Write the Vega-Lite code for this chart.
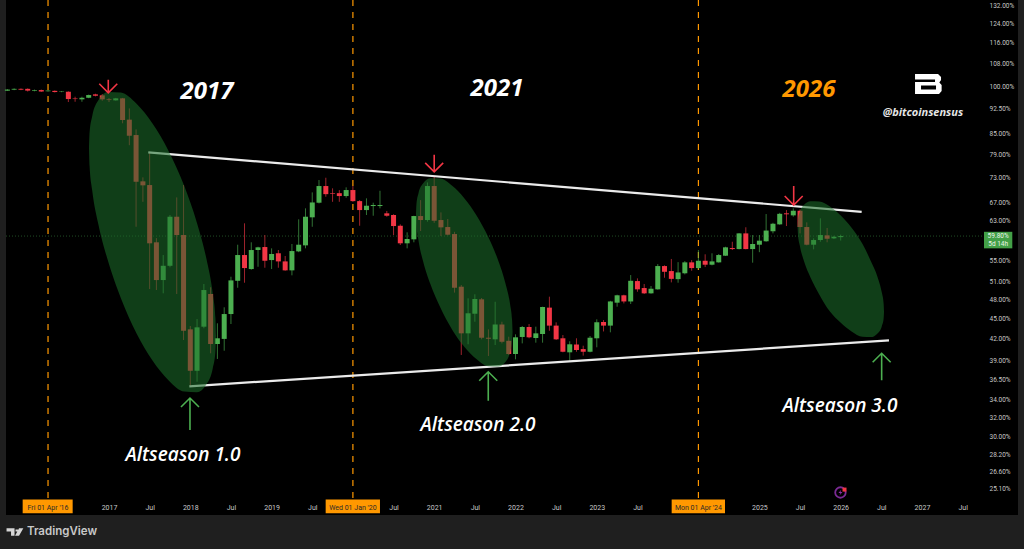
{
  "$schema": "https://vega.github.io/schema/vega-lite/v6.json",
  "description": "Altseason cycles on a monthly log chart of bitcoin dominance",
  "autosize": "none",
  "width": 1012,
  "height": 515,
  "padding": {"left": 6, "top": 0, "right": 6, "bottom": 34},
  "background": "#1f1f1f",
  "view": {"fill": "#000000", "stroke": null},
  "datasets": {
    "candles": [
      {"t":2015.75,"o":98.40,"c":98.80,"h":98.97,"l":98.30},
      {"t":2015.833,"o":98.76,"c":99.04,"h":99.2,"l":98.6},
      {"t":2015.917,"o":99.04,"c":98.76,"h":99.2,"l":98.6},
      {"t":2016,"o":99.04,"c":98.43,"h":99.2,"l":98.13},
      {"t":2016.083,"o":98.40,"c":98.63,"h":98.8,"l":98.2},
      {"t":2016.167,"o":98.63,"c":98.13,"h":98.8,"l":98.0},
      {"t":2016.25,"o":98.23,"c":98.46,"h":98.6,"l":98.1},
      {"t":2016.333,"o":98.36,"c":97.96,"h":98.5,"l":97.8},
      {"t":2016.417,"o":98.06,"c":98.20,"h":98.3,"l":97.9},
      {"t":2016.5,"o":98.06,"c":95.63,"h":98.2,"l":94.65},
      {"t":2016.583,"o":95.8,"c":95.63,"h":96.4,"l":94.74},
      {"t":2016.667,"o":95.53,"c":96.05,"h":96.4,"l":94.74},
      {"t":2016.75,"o":96.05,"c":96.95,"h":97.1,"l":95.9},
      {"t":2016.833,"o":97.18,"c":96.72,"h":97.4,"l":96.5},
      {"t":2016.917,"o":96.85,"c":95.53,"h":97.29,"l":95.07},
      {"t":2017,"o":95.53,"c":95.30,"h":95.96,"l":94.65},
      {"t":2017.083,"o":95.2,"c":95.86,"h":96.0,"l":95.1},
      {"t":2017.167,"o":95.86,"c":88.99,"h":96.0,"l":87.98},
      {"t":2017.25,"o":89.09,"c":84.3,"h":92.6,"l":81.6},
      {"t":2017.333,"o":84.5,"c":71.97,"h":86.17,"l":61.66},
      {"t":2017.417,"o":72.07,"c":71.09,"h":73.07,"l":67.18},
      {"t":2017.5,"o":71.16,"c":58.25,"h":79.62,"l":49.78},
      {"t":2017.583,"o":58.45,"c":51.34,"h":59.3,"l":49.61},
      {"t":2017.667,"o":51.34,"c":53.92,"h":55.95,"l":49.05},
      {"t":2017.75,"o":53.92,"c":63.82,"h":64.2,"l":53.63},
      {"t":2017.833,"o":63.82,"c":59.93,"h":68.2,"l":48.94},
      {"t":2017.917,"o":59.93,"c":43.13,"h":71.16,"l":41.78},
      {"t":2018,"o":43.34,"c":37.59,"h":43.84,"l":35.67},
      {"t":2018.083,"o":37.59,"c":43.64,"h":44.9,"l":36.2},
      {"t":2018.167,"o":43.74,"c":49.61,"h":50.65,"l":43.5},
      {"t":2018.25,"o":48.94,"c":41.21,"h":50.08,"l":39.92},
      {"t":2018.333,"o":41.21,"c":42.03,"h":44.25,"l":39.15},
      {"t":2018.417,"o":41.94,"c":45.68,"h":46.75,"l":40.27},
      {"t":2018.5,"o":45.68,"c":51.28,"h":51.93,"l":44.14},
      {"t":2018.583,"o":51.21,"c":55.95,"h":57.97,"l":50.0},
      {"t":2018.667,"o":55.95,"c":53.5,"h":62.39,"l":50.87},
      {"t":2018.75,"o":53.32,"c":56.92,"h":58.45,"l":53.19},
      {"t":2018.833,"o":56.92,"c":57.45,"h":57.57,"l":53.74},
      {"t":2018.917,"o":57.51,"c":54.86,"h":59.93,"l":53.56},
      {"t":2019,"o":54.99,"c":56.15,"h":57.25,"l":53.32},
      {"t":2019.083,"o":56.29,"c":54.74,"h":56.92,"l":53.56},
      {"t":2019.167,"o":54.74,"c":53.08,"h":55.76,"l":53.01},
      {"t":2019.25,"o":53.08,"c":56.72,"h":58.11,"l":52.18},
      {"t":2019.333,"o":56.66,"c":57.97,"h":63.25,"l":56.5},
      {"t":2019.417,"o":57.84,"c":63.82,"h":65.69,"l":57.25},
      {"t":2019.5,"o":63.69,"c":67.03,"h":69.39,"l":61.66},
      {"t":2019.583,"o":66.97,"c":70.92,"h":72.4,"l":66.8},
      {"t":2019.667,"o":70.92,"c":68.97,"h":72.97,"l":68.36},
      {"t":2019.75,"o":69.2,"c":69.05,"h":70.36,"l":67.18},
      {"t":2019.833,"o":69.2,"c":68.52,"h":69.93,"l":67.18},
      {"t":2019.917,"o":68.52,"c":69.95,"h":70.6,"l":68.12},
      {"t":2020,"o":69.95,"c":67.34,"h":70.92,"l":67.18},
      {"t":2020.083,"o":67.34,"c":65.3,"h":67.57,"l":61.87},
      {"t":2020.167,"o":65.3,"c":66.28,"h":67.98,"l":64.2},
      {"t":2020.25,"o":66.21,"c":66.44,"h":66.97,"l":64.04},
      {"t":2020.333,"o":66.21,"c":66.44,"h":69.78,"l":65.69},
      {"t":2020.417,"o":64.57,"c":64.04,"h":65.1,"l":63.82},
      {"t":2020.5,"o":64.2,"c":61.81,"h":64.36,"l":59.93},
      {"t":2020.583,"o":61.87,"c":58.25,"h":62.17,"l":57.91},
      {"t":2020.667,"o":58.25,"c":59.12,"h":60.49,"l":57.25},
      {"t":2020.75,"o":59.05,"c":63.97,"h":64.04,"l":58.45},
      {"t":2020.833,"o":63.97,"c":63.1,"h":67.57,"l":60.76},
      {"t":2020.917,"o":63.1,"c":70.92,"h":71.8,"l":62.74},
      {"t":2021,"o":70.92,"c":62.95,"h":73.23,"l":62.5},
      {"t":2021.083,"o":63.1,"c":61.53,"h":64.78,"l":59.72},
      {"t":2021.167,"o":61.6,"c":60.0,"h":63.32,"l":59.86},
      {"t":2021.25,"o":60.13,"c":50.0,"h":60.6,"l":49.17},
      {"t":2021.333,"o":50.18,"c":42.75,"h":50.47,"l":39.69},
      {"t":2021.417,"o":42.75,"c":45.8,"h":48.22,"l":41.17},
      {"t":2021.5,"o":45.73,"c":48.1,"h":48.89,"l":44.49},
      {"t":2021.583,"o":48.05,"c":42.11,"h":48.27,"l":41.88},
      {"t":2021.667,"o":42.11,"c":41.97,"h":43.34,"l":39.55},
      {"t":2021.75,"o":41.88,"c":44.07,"h":47.65,"l":41.07},
      {"t":2021.833,"o":44.07,"c":41.53,"h":44.49,"l":41.3},
      {"t":2021.917,"o":41.67,"c":39.82,"h":42.26,"l":39.69},
      {"t":2022,"o":39.82,"c":42.17,"h":42.6,"l":39.1},
      {"t":2022.083,"o":42.22,"c":43.69,"h":43.84,"l":41.3},
      {"t":2022.167,"o":43.69,"c":42.17,"h":44.14,"l":42.03},
      {"t":2022.25,"o":42.07,"c":42.75,"h":43.74,"l":41.4},
      {"t":2022.333,"o":42.65,"c":46.8,"h":46.85,"l":41.4},
      {"t":2022.417,"o":46.7,"c":43.9,"h":48.49,"l":43.13},
      {"t":2022.5,"o":43.9,"c":41.88,"h":44.4,"l":41.78},
      {"t":2022.583,"o":42.03,"c":40.13,"h":42.5,"l":40.05},
      {"t":2022.667,"o":40.05,"c":41.17,"h":41.6,"l":38.9},
      {"t":2022.75,"o":41.14,"c":40.37,"h":42.03,"l":40.13},
      {"t":2022.833,"o":40.5,"c":40.13,"h":40.97,"l":39.6},
      {"t":2022.917,"o":40.13,"c":42.11,"h":42.36,"l":40.05},
      {"t":2023,"o":42.03,"c":44.41,"h":44.86,"l":40.75},
      {"t":2023.083,"o":44.45,"c":43.9,"h":44.75,"l":43.03},
      {"t":2023.167,"o":43.9,"c":47.7,"h":47.8,"l":42.9},
      {"t":2023.25,"o":47.5,"c":48.72,"h":48.82,"l":46.85},
      {"t":2023.333,"o":48.72,"c":47.7,"h":48.82,"l":47.38},
      {"t":2023.417,"o":47.7,"c":51.21,"h":52.23,"l":47.28},
      {"t":2023.5,"o":51.16,"c":49.73,"h":51.64,"l":49.32},
      {"t":2023.583,"o":49.95,"c":49.05,"h":50.65,"l":48.94},
      {"t":2023.667,"o":49.05,"c":49.83,"h":50.3,"l":48.99},
      {"t":2023.75,"o":49.73,"c":53.87,"h":54.24,"l":49.67},
      {"t":2023.833,"o":53.87,"c":52.82,"h":54.0,"l":51.75},
      {"t":2023.917,"o":52.95,"c":51.55,"h":55.2,"l":50.93},
      {"t":2024,"o":51.5,"c":52.7,"h":54.6,"l":50.87},
      {"t":2024.083,"o":52.55,"c":54.56,"h":54.8,"l":52.35},
      {"t":2024.167,"o":54.56,"c":53.5,"h":54.99,"l":53.01},
      {"t":2024.25,"o":53.5,"c":54.86,"h":56.92,"l":53.26},
      {"t":2024.333,"o":54.86,"c":54.12,"h":56.09,"l":53.68},
      {"t":2024.417,"o":54.12,"c":54.74,"h":56.28,"l":54.0},
      {"t":2024.5,"o":54.56,"c":55.95,"h":56.15,"l":54.5},
      {"t":2024.583,"o":55.82,"c":57.45,"h":57.57,"l":55.76},
      {"t":2024.667,"o":57.31,"c":57.11,"h":58.56,"l":56.92},
      {"t":2024.75,"o":57.11,"c":60.27,"h":60.33,"l":57.05},
      {"t":2024.833,"o":60.27,"c":57.11,"h":61.55,"l":57.05},
      {"t":2024.917,"o":57.11,"c":58.11,"h":59.93,"l":54.5},
      {"t":2025,"o":57.97,"c":58.78,"h":59.93,"l":56.5},
      {"t":2025.083,"o":58.66,"c":60.86,"h":64.41,"l":58.56},
      {"t":2025.167,"o":60.71,"c":62.3,"h":62.5,"l":60.27},
      {"t":2025.25,"o":62.17,"c":64.46,"h":64.68,"l":62.08},
      {"t":2025.333,"o":64.57,"c":64.36,"h":65.3,"l":61.81},
      {"t":2025.417,"o":64.12,"c":65.15,"h":65.69,"l":63.82},
      {"t":2025.5,"o":65.15,"c":61.6,"h":65.45,"l":60.27},
      {"t":2025.583,"o":61.6,"c":57.97,"h":62.6,"l":57.84},
      {"t":2025.667,"o":57.97,"c":58.91,"h":59.25,"l":57.05},
      {"t":2025.75,"o":58.91,"c":59.93,"h":63.47,"l":58.56},
      {"t":2025.833,"o":59.86,"c":59.17,"h":61.4,"l":58.45},
      {"t":2025.917,"o":59.25,"c":59.58,"h":59.78,"l":59.1},
      {"t":2026,"o":59.5,"c":59.72,"h":60.0,"l":58.8}
    ],
    "ellipses": [
      {"id":"2017","t":2016.754,"p":80.7,"p2":80.7},
      {"id":"2017","t":2016.761,"p":85.23,"p2":75.96},
      {"id":"2017","t":2016.793,"p":90.17,"p2":69.92},
      {"id":"2017","t":2016.871,"p":95.33,"p2":62.05},
      {"id":"2017","t":2016.988,"p":97.99,"p2":54.8},
      {"id":"2017","t":2017.145,"p":97.79,"p2":48.28},
      {"id":"2017","t":2017.339,"p":94.07,"p2":42.74},
      {"id":"2017","t":2017.535,"p":87.91,"p2":38.94},
      {"id":"2017","t":2017.731,"p":80.08,"p2":36.39},
      {"id":"2017","t":2017.926,"p":70.9,"p2":35.0},
      {"id":"2017","t":2018.082,"p":62.45,"p2":34.93},
      {"id":"2017","t":2018.199,"p":55.17,"p2":35.9},
      {"id":"2017","t":2018.277,"p":48.95,"p2":37.96},
      {"id":"2017","t":2018.309,"p":45.06,"p2":40.16},
      {"id":"2017","t":2018.316,"p":42.42,"p2":42.42},
      {"id":"2021","t":2020.776,"p":64.48,"p2":64.48},
      {"id":"2021","t":2020.782,"p":66.73,"p2":62.06},
      {"id":"2021","t":2020.806,"p":69.13,"p2":58.94},
      {"id":"2021","t":2020.865,"p":71.58,"p2":54.67},
      {"id":"2021","t":2020.954,"p":72.82,"p2":50.6},
      {"id":"2021","t":2021.074,"p":72.75,"p2":46.74},
      {"id":"2021","t":2021.221,"p":70.97,"p2":43.28},
      {"id":"2021","t":2021.37,"p":68.03,"p2":40.83},
      {"id":"2021","t":2021.519,"p":64.17,"p2":39.15},
      {"id":"2021","t":2021.668,"p":59.43,"p2":38.18},
      {"id":"2021","t":2021.786,"p":54.96,"p2":38.14},
      {"id":"2021","t":2021.876,"p":50.8,"p2":38.74},
      {"id":"2021","t":2021.935,"p":47.12,"p2":40.17},
      {"id":"2021","t":2021.958,"p":44.76,"p2":41.63},
      {"id":"2021","t":2021.964,"p":43.0,"p2":43.0},
      {"id":"2026","t":2025.47,"p":61.66,"p2":61.66},
      {"id":"2026","t":2025.475,"p":63.2,"p2":59.99},
      {"id":"2026","t":2025.497,"p":64.87,"p2":57.79},
      {"id":"2026","t":2025.55,"p":66.49,"p2":54.72},
      {"id":"2026","t":2025.63,"p":67.3,"p2":51.75},
      {"id":"2026","t":2025.736,"p":67.23,"p2":48.87},
      {"id":"2026","t":2025.868,"p":66.1,"p2":46.07},
      {"id":"2026","t":2026.001,"p":64.1,"p2":44.32},
      {"id":"2026","t":2026.134,"p":61.45,"p2":43.03},
      {"id":"2026","t":2026.267,"p":58.15,"p2":42.24},
      {"id":"2026","t":2026.373,"p":54.72,"p2":42.2},
      {"id":"2026","t":2026.453,"p":51.9,"p2":42.73},
      {"id":"2026","t":2026.506,"p":49.17,"p2":43.82},
      {"id":"2026","t":2026.528,"p":47.37,"p2":44.95},
      {"id":"2026","t":2026.533,"p":46.0,"p2":46.0}
    ],
    "trend": [
      {"id":"top","t":2017.483,"p":79.62},
      {"id":"top","t":2026.258,"p":64.91},
      {"id":"bottom","t":2017.988,"p":35.63},
      {"id":"bottom","t":2026.594,"p":41.73}
    ],
    "arrows": [
      {"kind":"top1","t":2016.991,"p":97.72},
      {"kind":"top2","t":2021.0,"p":74.47},
      {"kind":"top3","t":2025.422,"p":66.44},
      {"kind":"low1","t":2017.996,"p":34.23},
      {"kind":"low2","t":2021.665,"p":37.46},
      {"kind":"low3","t":2026.504,"p":39.92}
    ],
    "glyphs": [
      {"kind":"logo","t":2027.078,"p":100.69},
      {"kind":"tv","t":2015.838,"p":21.6},
      {"kind":"bolt","t":2025.997,"p":24.74},
      {"kind":"dot","t":2026.047,"p":24.99}
    ],
    "years": [
      {"label":"2017","t":2018.205,"p":97.96},
      {"label":"2021","t":2021.772,"p":98.97},
      {"label":"2026","t":2025.61,"p":98.63}
    ],
    "seasons": [
      {"label":"Altseason 1.0","t":2017.91,"p":28.14},
      {"label":"Altseason 2.0","t":2021.539,"p":31.2},
      {"label":"Altseason 3.0","t":2025.991,"p":33.3}
    ],
    "cycles": [
      {"t":2016.25,"tag":"Fri 01 Apr '16","from":2015.938,"to":2016.553,"top":134.4,"bottom":24.16,"tagTop":24.16,"tagBottom":23.03,"tagMid":23.49},
      {"t":2020,"tag":"Wed 01 Jan '20","from":2019.665,"to":2020.333,"top":134.4,"bottom":24.16,"tagTop":24.16,"tagBottom":23.03,"tagMid":23.49},
      {"t":2024.25,"tag":"Mon 01 Apr '24","from":2023.921,"to":2024.577,"top":134.4,"bottom":24.16,"tagTop":24.16,"tagBottom":23.03,"tagMid":23.49}
    ]
  },
  "encoding": {
    "x": {
      "field": "t",
      "type": "quantitative",
      "scale": {"domain": [2015.733, 2028.181], "nice": false, "zero": false, "padding": 0},
      "axis": {
        "title": null,
        "grid": false,
        "domain": false,
        "ticks": false,
        "labelPadding": -12,
        "labelFont": "Roboto",
        "labelFontSize": 7,
        "labelColor": "#c8c8c8",
        "labelOverlap": false,
        "labelFlush": false,
        "labelBound": false,
        "values": [2017,2017.5,2018,2018.5,2019,2019.5,2020.5,2021,2021.5,2022,2022.5,2023,2023.5,2025,2025.5,2026,2026.5,2027,2027.5],
        "labelExpr": "floor(datum.value) === datum.value ? '' + datum.value : 'Jul'"
      }
    },
    "y": {
      "field": "p",
      "type": "quantitative",
      "scale": {"type": "log", "domain": [22.9, 134.4], "nice": false},
      "axis": {
        "orient": "right",
        "offset": -29,
        "title": null,
        "grid": false,
        "domain": false,
        "ticks": false,
        "labelPadding": 0,
        "labelFont": "Roboto",
        "labelFontSize": 6.5,
        "labelColor": "#c8c8c8",
        "labelAlign": "left",
        "labelOverlap": false,
        "labelBound": false,
        "values": [132,124,116,108,100,92.5,85,79,73,67,63,55,51,48,45,42,39,36.5,34,32,30,28.2,26.6,25.1],
        "labelExpr": "format(datum.value, '.2f') + '%'"
      }
    }
  },
  "layer": [
    {
      "data": {"values": [{"from":2015.733,"to":2027.763,"p":59.72}]},
      "mark": {"type": "rule", "stroke": "#1f4d24", "strokeWidth": 1, "strokeDash": [1, 2]},
      "encoding": {
        "x": {"field": "from", "type": "quantitative"},
        "x2": {"field": "to"}
      }
    },
    {
      "data": {"name": "cycles"},
      "mark": {"type": "rule", "stroke": "#ff9800", "strokeWidth": 1.2, "strokeDash": [6, 6]},
      "encoding": {
        "y": {"field": "top", "type": "quantitative", "axis": {"orient": "right"}},
        "y2": {"field": "bottom"}
      }
    },
    {
      "data": {"name": "candles"},
      "mark": {"type": "rule", "strokeWidth": 1, "opacity": 0.65},
      "encoding": {
        "y": {"field": "l", "type": "quantitative", "axis": {"orient": "right"}},
        "y2": {"field": "h"},
        "stroke": {"condition": {"test": "datum.c >= datum.o", "value": "#4caf50"}, "value": "#f23645"}
      }
    },
    {
      "data": {"name": "candles"},
      "mark": {"type": "bar", "size": 5, "orient": "vertical"},
      "encoding": {
        "y": {"field": "o", "type": "quantitative", "axis": {"orient": "right"}},
        "y2": {"field": "c"},
        "fill": {"condition": {"test": "datum.c >= datum.o", "value": "#4caf50"}, "value": "#f23645"}
      }
    },
    {
      "data": {"name": "trend"},
      "mark": {"type": "line", "stroke": "#ebebeb", "strokeWidth": 2.2},
      "encoding": {"detail": {"field": "id"}}
    },
    {
      "data": {"name": "ellipses"},
      "mark": {"type": "area", "fill": "#1c6e2a", "opacity": 0.56, "interpolate": "monotone"},
      "encoding": {
        "y2": {"field": "p2"},
        "detail": {"field": "id"}
      }
    },
    {
      "data": {"name": "arrows"},
      "mark": {"type": "point", "filled": false, "size": 4, "strokeWidth": 1.6, "opacity": 1},
      "encoding": {
        "shape": {
          "field": "kind",
          "legend": null,
          "scale": {
            "domain": ["top1", "top2", "top3", "low1", "low2", "low3", "logo", "tv", "bolt", "dot"],
            "range": [
              "M0,-13L0,0M-9,-9L0,0L9,-9",
              "M0,-17L0,0M-9,-9L0,0L9,-9",
              "M0,-19L0,0M-9,-9L0,0L9,-9",
              "M0,32L0,0M-9,9L0,0L9,9",
              "M0,29L0,0M-9,9L0,0L9,9",
              "M0,27L0,0M-9,9L0,0L9,9",
              "M-13.3,-10L9.7,-10L12.7,-7L12.7,-4L11,-1.5L13.3,1L13.3,7L10.7,10L-13.3,10L-13.3,-2L6.7,-2L6.7,-4.5L-13.3,-4.5ZM-7.3,1.5L-7.3,5.5L7.7,5.5L7.7,1.5Z",
              "M-8,-3.7L0,-3.7L0,3.7L-3.5,3.7L-3.5,-0.5L-8,-0.5ZM1,-2.5L3.5,-2.5L3.5,-0.5L1,-0.5ZM4.5,-3.7L8.8,-3.7L4.5,3.7L0.5,3.7Z",
              "M1,-3L-2,0.5L0,0.5L-1,3L2,-0.5L0,-0.5Z",
              "M-2,-2L2,-2L2,2L-2,2Z"
            ]
          }
        },
        "stroke": {"condition": {"test": "indexof(datum.kind, 'top') === 0", "value": "#f23645"}, "value": "#4caf50"}
      }
    },
    {
      "data": {"values": [{"t":2025.997,"p":24.74}]},
      "mark": {"type": "point", "filled": false, "size": 110, "stroke": "#7b2a94", "strokeWidth": 1.8, "opacity": 1}
    },
    {
      "data": {"name": "glyphs"},
      "mark": {"type": "point", "filled": true, "size": 4, "opacity": 1},
      "encoding": {
        "shape": {
          "field": "kind",
          "legend": null,
          "scale": {
            "domain": ["top1", "top2", "top3", "low1", "low2", "low3", "logo", "tv", "bolt", "dot"]
          }
        },
        "fill": {
          "field": "kind",
          "legend": null,
          "scale": {"domain": ["logo", "tv", "bolt", "dot"], "range": ["#ffffff", "#d6d6d6", "#8e2fa8", "#f23645"]}
        }
      }
    },
    {
      "data": {"name": "years"},
      "mark": {"type": "text", "font": "Open Sans", "fontSize": 24, "fontWeight": 700, "fontStyle": "italic", "baseline": "middle"},
      "encoding": {
        "text": {"field": "label"},
        "fill": {"condition": {"test": "datum.label === '2026'", "value": "#ff9800"}, "value": "#ffffff"}
      }
    },
    {
      "data": {"name": "seasons"},
      "mark": {"type": "text", "font": "Open Sans", "fontSize": 19, "fontWeight": 600, "fontStyle": "italic", "baseline": "middle", "fill": "#ffffff"},
      "encoding": {"text": {"field": "label"}}
    },
    {
      "data": {"values": [{"label":"@bitcoinsensus","t":2027.012,"p":91.0}]},
      "mark": {"type": "text", "font": "Open Sans", "fontSize": 11, "fontWeight": 700, "fontStyle": "italic", "baseline": "middle", "fill": "#e6e6e6"},
      "encoding": {"text": {"field": "label"}}
    },
    {
      "data": {"values": [{"from":2027.763,"to":2028.111,"p":60.6,"p2":57.25}]},
      "mark": {"type": "rect", "fill": "#43a047"},
      "encoding": {
        "x": {"field": "from", "type": "quantitative"},
        "x2": {"field": "to"},
        "y2": {"field": "p2"}
      }
    },
    {
      "data": {"values": [{"label":"59.80%","t":2027.937,"p":59.72},{"label":"5d 14h","t":2027.937,"p":58.2}]},
      "mark": {"type": "text", "font": "Roboto", "fontSize": 6.5, "baseline": "middle", "fill": "#ecf6ec"},
      "encoding": {"text": {"field": "label"}}
    },
    {
      "data": {"name": "cycles"},
      "mark": {"type": "rect", "fill": "#ff9800"},
      "encoding": {
        "x": {"field": "from", "type": "quantitative"},
        "x2": {"field": "to"},
        "y": {"field": "tagTop", "type": "quantitative", "axis": {"orient": "right"}},
        "y2": {"field": "tagBottom"}
      }
    },
    {
      "data": {"name": "cycles"},
      "mark": {"type": "text", "font": "Roboto", "fontSize": 7, "baseline": "middle", "fill": "#2a2a2a"},
      "encoding": {
        "y": {"field": "tagMid", "type": "quantitative", "axis": {"orient": "right"}},
        "text": {"field": "tag"}
      }
    },
    {
      "data": {"values": [{"label":"TradingView","t":2015.991,"p":21.6}]},
      "mark": {"type": "text", "font": "Inter", "fontSize": 11.5, "fontWeight": 600, "align": "left", "baseline": "middle", "fill": "#c8c8c8"},
      "encoding": {"text": {"field": "label"}}
    }
  ]
}
